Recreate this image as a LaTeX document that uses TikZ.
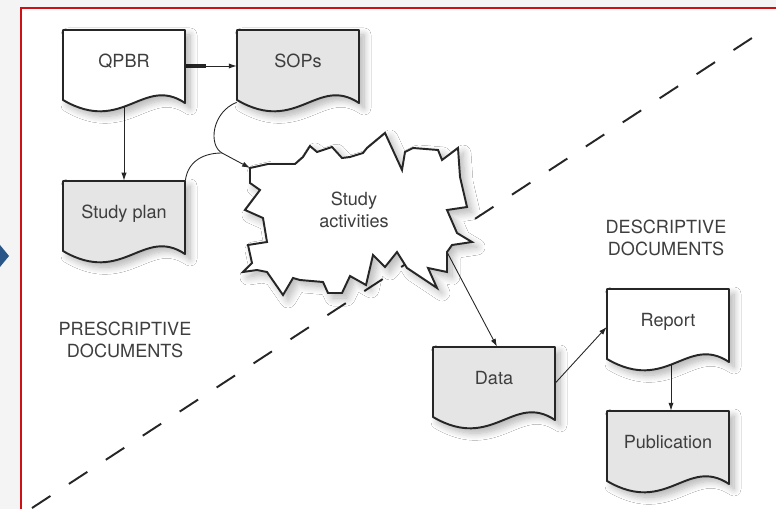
\documentclass[tikz,border=0pt]{standalone}
\usepackage{fontspec}
\setmainfont{TeX Gyre Heros}
\usetikzlibrary{arrows.meta,shadows.blur}
\pgfdeclarelayer{back}
\pgfsetlayers{back,main}
\definecolor{ink}{RGB}{38,38,38}
\definecolor{txt}{RGB}{62,62,62}
\definecolor{docgray}{RGB}{229,229,229}
\definecolor{framered}{RGB}{204,16,22}
\definecolor{pagegray}{RGB}{244,244,244}
\definecolor{navblue}{RGB}{40,86,136}

\newcommand{\docshape}[3]{%
  \path[docbody, fill=#3, shift={(#1,#2)}] (-61,-31) -- (61,-31) -- (61,42)
    .. controls (19,14) and (-1,74) .. (-61,39) -- cycle;}

\begin{document}
\begin{tikzpicture}[x=0.02cm,y=-0.02cm,font=\fontsize{10.3}{12.8}\selectfont,text=txt,>={Latex[length=4.5pt,width=3pt]}]
\tikzstyle{doc} = [rectangle, minimum width=2.44cm, minimum height=1.24cm, inner sep=0pt, text height=0.72em, text depth=0pt]
\tikzstyle{docbody} = [draw=ink, line width=1.1pt, line join=round, blur shadow={shadow xshift=0.1cm, shadow yshift=-0.1cm, shadow blur radius=0.14cm, shadow blur steps=10, shadow opacity=30}]
\tikzstyle{cloud} = [draw=ink, fill=white, line width=1.1pt, line join=miter, blur shadow={shadow xshift=0.1cm, shadow yshift=-0.1cm, shadow blur radius=0.16cm, shadow blur steps=10, shadow opacity=30}]
\tikzstyle{edge} = [draw=ink, line width=0.5pt]
\tikzstyle{zone} = [align=center]
\tikzstyle{divider} = [draw=ink, line width=1.1pt, dash pattern=on 0.44cm off 0.442cm]

\useasboundingbox (0,0) rectangle (776,509);

\docshape{124}{61}{white}
\docshape{298}{61}{docgray}
\docshape{124}{212}{docgray}
\docshape{494}{378}{docgray}
\docshape{668}{320}{white}
\docshape{668}{442}{docgray}

\node[doc] (qpbr) at (124,61) {QPBR};
\node[doc] (sops) at (298,61) {SOPs};
\node[doc] (plan) at (124,212) {Study plan};
\node[doc] (data) at (494,378) {Data};
\node[doc] (report) at (668,320) {Report};
\node[doc] (pub) at (668,442) {Publication};

\path[cloud] (250,168) -- (268,164) -- (295,164) -- (303,157) -- (310,146) -- (317,152)
  -- (332,147) -- (342,158) -- (350,157) -- (363,153) -- (367,148) -- (385,133)
  -- (402,170) -- (405,152) -- (413,148) -- (438,150) -- (442,160) -- (458,148)
  -- (460,177) -- (467,207) -- (447,210) -- (457,233) -- (472,242) -- (452,245)
  -- (447,252) -- (447,272) -- (428,268) -- (437,288) -- (407,268) -- (397,252)
  -- (385,267) -- (373,255) -- (366,285) -- (350,276) -- (342,293) -- (328,293)
  -- (323,282) -- (300,280) -- (293,278)
  -- (283,295) -- (267,272) -- (257,270) -- (243,272) -- (252,263) -- (248,245)
  -- (267,242) -- (263,218) -- (245,210) -- (260,190) -- (250,183) -- cycle;
\node[zone] (act) at (354,210) {Study\\activities};

\node[zone] (pre) at (125,340) {PRESCRIPTIVE\\DOCUMENTS};
\node[zone] (desc) at (666,238) {DESCRIPTIVE\\DOCUMENTS};

\coordinate (actin) at (250,168);
\coordinate (actout) at (447,252);
\coordinate (join) at (222,153);

\begin{pgfonlayer}{back}
\fill[pagegray] (0,0) rectangle (776,509);
\fill[white] (21,8) rectangle (776,509);
\draw[framered, line width=1.3pt] (21,509) -- (21,8) -- (776,8);
\fill[navblue] (0,245) -- (9,256) -- (0,267) -- cycle;
\draw[divider] (32,508) -- (752,38);

\path ([yshift=-0.1cm]qpbr.east) ++(21,0) coordinate (stub);
\draw[edge, line width=1.8pt] ([yshift=-0.1cm]qpbr.east) -- (stub);
\draw[edge, ->] (stub) -- ([yshift=-0.1cm]sops.west);
\draw[edge, ->] (qpbr.south) -- (plan.north);
\draw[edge] ([yshift=-0.2cm]sops.south west) .. controls (212,112) and (208,145) .. (join);
\draw[edge] (plan.north east) .. controls (188,160) and (205,153) .. (join);
\draw[edge, ->] (join) -- (actin);
\draw[edge, ->] (actout) -- ([xshift=0.06cm]data.north);
\draw[edge, ->] ([yshift=-0.1cm]data.east) -- ([yshift=-0.14cm]report.west);
\draw[edge, ->] ([xshift=0.06cm]report.south) -- ([xshift=0.06cm]pub.north);
\end{pgfonlayer}
\end{tikzpicture}
\end{document}
